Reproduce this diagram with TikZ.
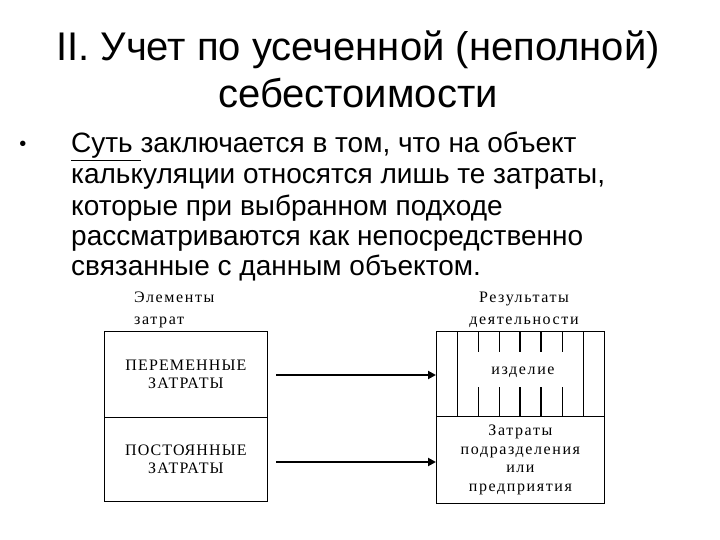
\documentclass[tikz,border=0pt]{standalone}
\usepackage{fontspec}
\setmainfont{Liberation Sans}
\newfontfamily\diagfont[LetterSpace=10]{Liberation Serif}
\newfontfamily\capsfont[LetterSpace=7]{Liberation Serif}
\usetikzlibrary{arrows.meta}
\begin{document}
\begin{tikzpicture}[x=1pt,y=-1pt,
  box/.style={draw=black,line width=0.8pt,rectangle,inner sep=0pt,anchor=north west,
    font=\capsfont\fontsize{16}{18.5}\selectfont,align=center},
  lbl/.style={font=\diagfont\fontsize{16}{22}\selectfont,inner sep=0pt},
  ttl/.style={font=\fontsize{40}{40}\selectfont,inner sep=0pt,anchor=base},
  bodyline/.style={font=\fontsize{28}{28}\selectfont,inner sep=0pt,anchor=base west},
  arr/.style={line width=2.4pt,-{Triangle[length=8pt,width=8pt]}},
  thin/.style={line width=0.8pt},
  thick2/.style={line width=1.6pt}]
\useasboundingbox (0,0) rectangle (720,540);
% title
\node[ttl] (t1) at (358,61) {II. Учет по усеченной (неполной)};
\node[ttl] (t2) at (358,108) {себестоимости};
% bullet and body
\node[font=\fontsize{20}{20}\selectfont,inner sep=0pt,anchor=base] (bul) at (23,151) {•};
\node[bodyline] (b1) at (71,153) {\underline{Суть }заключается в том, что на объект};
\node[bodyline] (b2) at (71,184) {калькуляции относятся лишь те затраты,};
\node[bodyline] (b3) at (71,215) {которые при выбранном подходе};
\node[bodyline] (b4) at (71,245) {рассматриваются как непосредственно};
\node[bodyline] (b5) at (71,275) {связанные с данным объектом.};
% headers
\node[lbl,align=left,anchor=north west] (hl) at (134,292) {Элементы\\затрат};
\node[lbl,align=center,anchor=north] (hr) at (524,292) {Результаты\\деятельности};
% left boxes
\node[box,minimum width=163pt,minimum height=86pt] (pv) at (104,331) {ПЕРЕМЕННЫЕ\\ЗАТРАТЫ};
\node[box,minimum width=163pt,minimum height=84pt] (pc) at (104,417) {ПОСТОЯННЫЕ\\ЗАТРАТЫ};
% right boxes
\node[box,minimum width=168pt,minimum height=85pt] (ri) at (436,331) {};
\node[box,font=\diagfont\fontsize{16}{18.7}\selectfont,minimum width=168pt,minimum height=87pt] (rc) at (436,416) {Затраты\\подразделения\\или\\предприятия};
\node[lbl] (izd) at (523,372) {изделие};
% vertical lines in product box
\foreach \x in {457,583} \draw[thin] (\x,331) -- (\x,416);
\foreach \x in {478,499,562} {\draw[thin] (\x,331) -- (\x,352); \draw[thin] (\x,387) -- (\x,416);}
\foreach \x in {520,541} {\draw[thick2] (\x,331) -- (\x,352); \draw[thick2] (\x,387) -- (\x,416);}
% arrows
\coordinate (s1) at (276,375);
\coordinate (s2) at (276,462);
\draw[arr] (s1) -- (s1 -| ri.west);
\draw[arr] (s2) -- (s2 -| rc.west);
\end{tikzpicture}
\end{document}
